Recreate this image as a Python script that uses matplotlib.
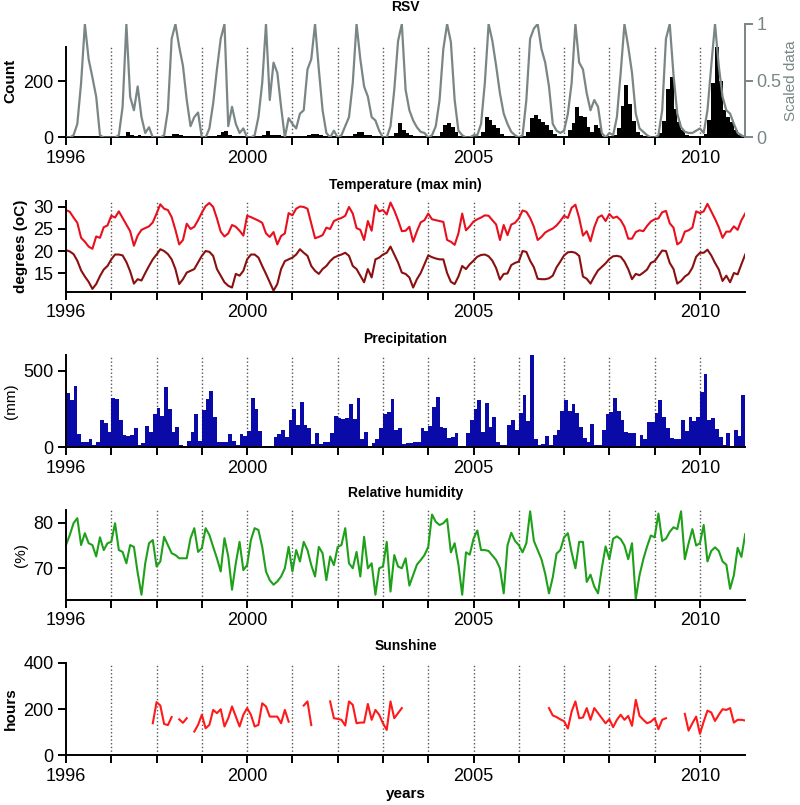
import numpy as np
import matplotlib
matplotlib.use('Agg')
import matplotlib.pyplot as plt

nan = np.nan

# monthly data, Jan 1996 .. Dec 2010 (lines carry one extra point at Jan 2011)
rsv_count = [
    2, 2, 3, 3, 4, 3, 2, 1, 1, 1, 1, 1,
    1, 1, 2, 5, 20, 8, 5, 8, 4, 2, 1, 1,
    1, 1, 2, 6, 12, 14, 10, 6, 4, 2, 1, 1,
    1, 1, 2, 4, 10, 18, 24, 10, 6, 4, 2, 1,
    1, 1, 2, 4, 8, 22, 8, 10, 8, 6, 2, 1,
    2, 2, 3, 5, 10, 12, 14, 10, 6, 4, 2, 1,
    2, 2, 3, 6, 12, 20, 18, 10, 8, 4, 2, 1,
    2, 2, 3, 15, 50, 25, 15, 10, 6, 3, 2, 1,
    1, 1, 3, 18, 45, 50, 38, 18, 5, 2, 1, 1,
    2, 2, 20, 73, 62, 44, 32, 14, 5, 3, 2, 2,
    2, 3, 20, 70, 78, 65, 55, 45, 25, 12, 4, 2,
    3, 26, 50, 109, 75, 72, 38, 20, 44, 32, 5, 2,
    3, 10, 35, 110, 185, 120, 60, 20, 8, 4, 2, 1,
    2, 15, 60, 170, 215, 100, 55, 25, 10, 5, 3, 2,
    3, 14, 62, 192, 320, 200, 97, 73, 55, 26, 8, 3,
]

rsv_scaled = [
    0, 0, 0.02, 0.12, 0.48, 1.0, 0.69, 0.53, 0.36, 0.02, 0, 0,
    0, 0, 0.02, 0.27, 1.0, 0.36, 0.24, 0.45, 0.18, 0.04, 0.09, 0,
    0, 0, 0.02, 0.24, 0.87, 1.0, 0.8, 0.63, 0.33, 0.1, 0.18, 0.22,
    0, 0, 0.08, 0.3, 0.6, 0.87, 1.0, 0.1, 0.27, 0.12, 0.04, 0.08,
    0, 0, 0.02, 0.18, 0.48, 1.0, 0.33, 0.66, 0.57, 0.27, 0, 0.17,
    0.12, 0.08, 0.21, 0.24, 0.6, 0.69, 1.0, 0.6, 0.24, 0.04, 0, 0.06,
    0, 0.02, 0.1, 0.18, 0.48, 1.0, 0.69, 0.45, 0.36, 0.18, 0.15, 0.06,
    0, 0, 0.1, 0.42, 0.85, 1.0, 0.42, 0.24, 0.15, 0.09, 0.05, 0.04,
    0, 0.02, 0.1, 0.33, 0.78, 1.0, 0.84, 0.33, 0.06, 0.02, 0, 0,
    0.02, 0.02, 0.12, 0.48, 1.0, 0.85, 0.63, 0.39, 0.21, 0.12, 0.05, 0.02,
    0, 0.02, 0.33, 0.87, 0.96, 1.0, 0.78, 0.66, 0.45, 0.12, 0.06, 0.04,
    0.06, 0.21, 0.48, 1.0, 0.66, 0.6, 0.39, 0.24, 0.33, 0.27, 0.04, 0,
    0.04, 0.02, 0.18, 0.57, 1.0, 0.8, 0.57, 0.21, 0.08, 0.05, 0.02, 0,
    0, 0.02, 0.24, 0.87, 1.0, 0.55, 0.21, 0.09, 0.05, 0.04, 0.04, 0.06,
    0.08, 0.04, 0.24, 0.63, 1.0, 0.63, 0.36, 0.24, 0.21, 0.12, 0.04, 0.02,
    0.0,
]

temp_max = [
    29.3, 28.9, 27.6, 26.4, 23.0, 22.1, 21.0, 20.5, 23.3, 23.0, 25.4, 25.8,
    28.0, 27.6, 29.0, 27.5, 26.0, 24.5, 21.2, 23.5, 24.8, 25.2, 25.6, 26.5,
    28.5, 30.6, 29.6, 29.3, 27.7, 24.8, 21.5, 22.5, 26.2, 25.0, 25.5, 27.0,
    28.7, 30.2, 30.9, 30.0, 27.4, 24.4, 23.3, 24.0, 25.9, 25.5, 24.6, 23.5,
    28.0, 27.7, 27.3, 26.9, 26.4, 24.0, 23.2, 24.3, 21.5, 23.4, 24.0, 28.6,
    28.1, 29.6, 30.1, 30.0, 29.6, 26.3, 22.9, 23.2, 23.6, 25.3, 25.0, 26.8,
    27.2, 27.5, 28.0, 30.0, 28.5, 25.2, 24.8, 22.5, 26.8, 24.6, 30.4, 29.0,
    29.3, 28.3, 31.0, 29.2, 27.0, 24.5, 24.6, 25.5, 22.1, 24.5, 26.5, 27.0,
    28.5, 27.2, 27.0, 26.8, 26.6, 22.5, 22.1, 21.4, 24.0, 28.5, 24.7, 25.6,
    26.7, 27.2, 27.6, 28.1, 28.0, 27.0, 26.0, 22.5, 25.9, 23.6, 26.0, 26.4,
    27.4, 29.2, 28.9, 27.5, 25.5, 22.5, 23.2, 24.2, 24.7, 25.1, 25.8, 26.8,
    28.0, 27.5, 29.8, 30.5, 27.5, 23.5, 24.5, 22.2, 25.4, 27.6, 28.1, 26.8,
    28.4, 27.5, 27.8, 27.0, 25.5, 22.8, 22.8, 24.3, 24.7, 24.5, 25.7, 26.7,
    27.2, 27.4, 28.8, 29.1, 26.3, 25.3, 21.5, 22.1, 24.4, 24.7, 25.3, 29.0,
    28.6, 29.0, 30.7, 29.0, 27.3, 25.4, 23.0, 24.4, 24.4, 25.6, 24.8, 27.0,
    28.5,
]

temp_min = [
    20.2, 19.9, 19.3, 17.8, 15.6, 14.2, 13.0, 11.4, 12.5, 14.3, 15.8, 16.6,
    18.1, 19.2, 19.2, 19.0, 17.5, 15.4, 12.6, 13.6, 13.3, 15.0, 16.6, 18.1,
    19.2, 20.4, 20.0, 19.3, 18.1, 15.9, 12.5, 13.6, 15.1, 15.5, 15.9, 17.4,
    18.9, 20.0, 19.8, 18.9, 15.9, 14.4, 12.9, 12.1, 11.7, 14.8, 14.4, 15.5,
    18.1, 19.2, 19.2, 18.5, 16.6, 14.8, 12.9, 11.0, 12.5, 15.9, 17.7, 18.1,
    18.5, 19.2, 20.4, 19.6, 18.9, 16.6, 15.5, 14.8, 15.9, 16.6, 17.7, 18.5,
    18.9, 19.2, 19.6, 18.9, 16.6, 15.9, 14.4, 12.9, 15.9, 14.0, 18.1, 18.5,
    19.2, 19.6, 21.0, 19.2, 17.4, 15.1, 14.8, 14.0, 11.7, 13.6, 15.0, 17.0,
    19.0, 18.6, 18.3, 18.1, 18.1, 15.0, 13.0, 12.5, 14.2, 16.6, 15.9, 17.0,
    17.8, 18.7, 19.1, 19.2, 18.8, 17.8, 16.1, 13.5, 14.8, 14.9, 16.8, 17.3,
    17.6, 20.0, 19.8, 17.8, 16.3, 13.7, 13.6, 13.6, 13.8, 14.4, 16.3, 17.6,
    19.0, 19.7, 19.8, 19.6, 18.9, 14.2, 13.7, 12.6, 14.2, 15.6, 16.4, 17.2,
    18.2, 18.8, 18.9, 18.7, 17.6, 15.9, 13.6, 14.8, 14.5, 15.1, 15.8, 17.3,
    17.7, 18.9, 20.1, 20.0, 17.3, 15.9, 12.6, 13.2, 14.2, 14.8, 16.2, 18.7,
    19.6, 19.6, 20.3, 19.0, 17.3, 15.8, 13.2, 14.4, 12.9, 15.0, 14.7, 17.0,
    19.2,
]

precip = [
    352, 308, 400, 85, 35, 35, 52, 12, 30, 180, 155, 98,
    325, 316, 180, 76, 72, 76, 122, 13, 24, 138, 98, 216,
    255, 203, 395, 253, 98, 133, 13, 8, 40, 98, 216, 40,
    245, 315, 370, 200, 30, 30, 35, 85, 40, 10, 85, 75,
    105, 325, 250, 105, 8, 8, 8, 65, 85, 115, 65, 180,
    250, 148, 295, 148, 125, 20, 90, 20, 35, 35, 90, 205,
    190, 185, 190, 285, 185, 325, 55, 100, 8, 25, 50, 125,
    220, 230, 315, 110, 125, 20, 25, 25, 30, 35, 125, 105,
    135, 260, 330, 130, 125, 60, 65, 95, 8, 8, 95, 175,
    250, 310, 100, 290, 130, 200, 30, 15, 10, 145, 180, 110,
    225, 345, 170, 605, 55, 15, 20, 75, 15, 80, 115, 235,
    310, 235, 285, 225, 130, 60, 30, 150, 10, 15, 115, 220,
    230, 320, 240, 180, 100, 95, 90, 8, 80, 55, 165, 165,
    225, 310, 200, 125, 60, 50, 50, 180, 105, 195, 170, 195,
    365, 480, 180, 190, 120, 65, 15, 95, 8, 110, 75, 340,
]

humidity = [
    75.1, 77.3, 79.9, 81.0, 75.1, 77.7, 75.5, 75.1, 72.6, 76.8, 74.0, 75.5,
    75.8, 79.9, 74.0, 73.6, 71.1, 75.1, 74.7, 69.0, 64.2, 71.1, 75.5, 76.2,
    70.4, 71.5, 76.9, 75.1, 73.3, 72.9, 72.2, 72.2, 72.2, 76.6, 78.8, 73.6,
    74.4, 78.8, 77.3, 74.7, 72.2, 69.3, 76.6, 72.6, 65.3, 71.1, 75.8, 69.6,
    70.7, 76.2, 78.8, 78.4, 74.7, 69.3, 67.4, 66.4, 67.1, 68.2, 70.0, 74.7,
    69.3, 74.0, 71.5, 75.8, 74.0, 70.7, 68.2, 74.7, 73.3, 67.4, 72.6, 70.7,
    74.7, 75.1, 78.8, 71.1, 70.0, 73.6, 68.2, 76.9, 70.0, 71.1, 64.2, 70.0,
    70.4, 75.8, 64.9, 72.9, 70.4, 70.0, 72.2, 66.2, 68.5, 70.8, 71.8, 72.9,
    74.7, 81.8, 80.2, 79.5, 79.9, 80.8, 73.5, 75.5, 70.8, 64.2, 73.5, 73.0,
    76.5, 78.3, 74.0, 74.0, 73.8, 72.8, 71.8, 70.0, 64.5, 75.0, 77.8, 76.0,
    75.1, 73.5, 75.5, 82.5, 76.0, 74.0, 72.0, 68.8, 64.5, 68.0, 73.2, 74.0,
    76.8, 77.7, 73.5, 70.0, 75.8, 75.8, 67.0, 68.6, 66.0, 64.5, 70.0, 74.8,
    72.0, 76.5, 77.0, 76.4, 75.0, 72.0, 75.5, 63.3, 68.5, 72.0, 74.8, 77.2,
    76.8, 82.0, 76.0, 76.5, 78.0, 79.0, 78.6, 82.5, 72.0, 75.5, 78.6, 75.0,
    75.5, 79.5, 71.5, 73.8, 74.6, 73.8, 71.5, 70.8, 65.5, 68.5, 74.5, 72.5,
    77.5,
]

sunshine = [
    nan, nan, nan, nan, nan, nan, nan, nan, nan, nan, nan, nan,
    nan, nan, nan, nan, nan, nan, nan, nan, nan, nan, nan, 138,
    230, 215, 135, 130, 165, nan, 155, 140, 160, nan, 102, 131,
    175, 116, 131, 196, 182, 199, 124, 160, 211, 167, 124, 175,
    204, 175, 124, 131, 225, 211, 167, 167, 167, 138, 196, 145,
    nan, nan, nan, 215, 233, 130, nan, nan, nan, nan, 233, 160,
    157, 153, 128, 233, 218, 138, 141, 141, 222, 153, 196, 175,
    138, 109, 233, 160, 182, 204, nan, nan, nan, nan, nan, nan,
    nan, nan, nan, nan, nan, nan, nan, nan, nan, nan, nan, nan,
    nan, nan, nan, nan, nan, nan, nan, nan, nan, nan, nan, nan,
    nan, nan, nan, nan, nan, nan, nan, nan, 204, 172, 165, 155,
    147, 115, 189, 233, 160, 163, 204, 153, 204, 182, 160, 138,
    156, 121, 153, 175, 153, 170, 127, 240, 170, 153, 138, 145,
    160, 112, 153, 160, nan, nan, nan, nan, 179, 106, 138, 167,
    92, 145, 193, 185, 148, 175, 199, 196, 204, 141, 153, 153,
    150,
]

years = list(range(1996, 2011))
labelled = [1996, 2000, 2005, 2010]

plt.rcParams['font.family'] = ['Liberation Sans', 'DejaVu Sans']

x_bar = 1996 + np.arange(len(precip)) / 12
x_line = 1996 + np.arange(len(temp_max)) / 12

fig = plt.figure(figsize=(8, 8.05), dpi=100)
left, width = 0.0825, 0.849
gray = '#7a8686'


def style(ax, ylim, yticks, ylabel, title, top=None, bold=True):
    ax.set_xlim(1996, 2011)
    ax.set_ylim(*ylim)
    ax.set_yticks(yticks)
    ax.set_xticks(years)
    ax.set_xticklabels([str(y) if y in labelled else '' for y in years])
    for s in ['top', 'right']:
        ax.spines[s].set_visible(False)
    for s in ['left', 'bottom']:
        ax.spines[s].set_linewidth(1.4)
    ax.tick_params(direction='out', length=6, width=1.4, labelsize=13, pad=3)
    ax.set_ylabel(ylabel, fontsize=11, fontweight='bold' if bold else 'normal', labelpad=4)
    ax.set_title(title, fontsize=10, fontweight='bold', pad=9)
    frac = 1.0
    if top is not None:
        ax.spines['left'].set_bounds(ylim[0], top)
        frac = (top - ylim[0]) / (ylim[1] - ylim[0])
    for y in years[1:]:
        ax.axvline(y, ymin=0, ymax=frac, color='#555555', ls=':', lw=1, zorder=0)


# RSV
ax1 = fig.add_axes([left, 0.8292, width, 0.141])
ax1.bar(x_bar, rsv_count, width=1 / 12, align='edge', color='black', linewidth=0)
style(ax1, (0, 402), [0, 200], 'Count', 'RSV', top=320)
ax1b = ax1.twinx()
ax1b.plot(x_line, rsv_scaled, color=gray, lw=1.6)
ax1b.set_ylim(0, 1)
ax1b.set_yticks([0, 0.5, 1])
ax1b.set_yticklabels(['0', '0.5', '1'])
for s in ['top', 'left', 'bottom']:
    ax1b.spines[s].set_visible(False)
ax1b.spines['right'].set_color(gray)
ax1b.spines['right'].set_linewidth(1.4)
ax1b.tick_params(direction='out', length=6, width=1.4, labelsize=13, pad=2,
                 colors=gray)
ax1b.set_ylabel('Scaled data', fontsize=11, color=gray, labelpad=2)

# Temperature
ax2 = fig.add_axes([left, 0.6373, width, 0.113])
ax2.plot(x_line, temp_max, color='#e8101e', lw=1.5)
ax2.plot(x_line, temp_min, color='#8a1010', lw=1.5)
style(ax2, (10.7, 31.35), [15, 20, 25, 30], 'degrees (oC)', 'Temperature (max min)')

# Precipitation
ax3 = fig.add_axes([left, 0.4447, width, 0.1143])
ax3.bar(x_bar, precip, width=1 / 12, align='edge', color='#0a0aa8', linewidth=0)
style(ax3, (0, 605), [0, 500], '(mm)', 'Precipitation', bold=False)

# Relative humidity
ax4 = fig.add_axes([left, 0.2547, width, 0.1118])
ax4.plot(x_line, humidity, color='#1fa01a', lw=1.5)
style(ax4, (63.05, 82.8), [70, 80], '(%)', 'Relative humidity', bold=False)

# Sunshine
ax5 = fig.add_axes([left, 0.0621, width, 0.1143])
ax5.plot(x_line, sunshine, color='#ff1a1a', lw=1.5)
style(ax5, (0, 400), [0, 200, 400], 'hours', 'Sunshine')
ax5.set_xlabel('years', fontsize=11, fontweight='bold', labelpad=2)

fig.savefig('out.png', dpi=100)
